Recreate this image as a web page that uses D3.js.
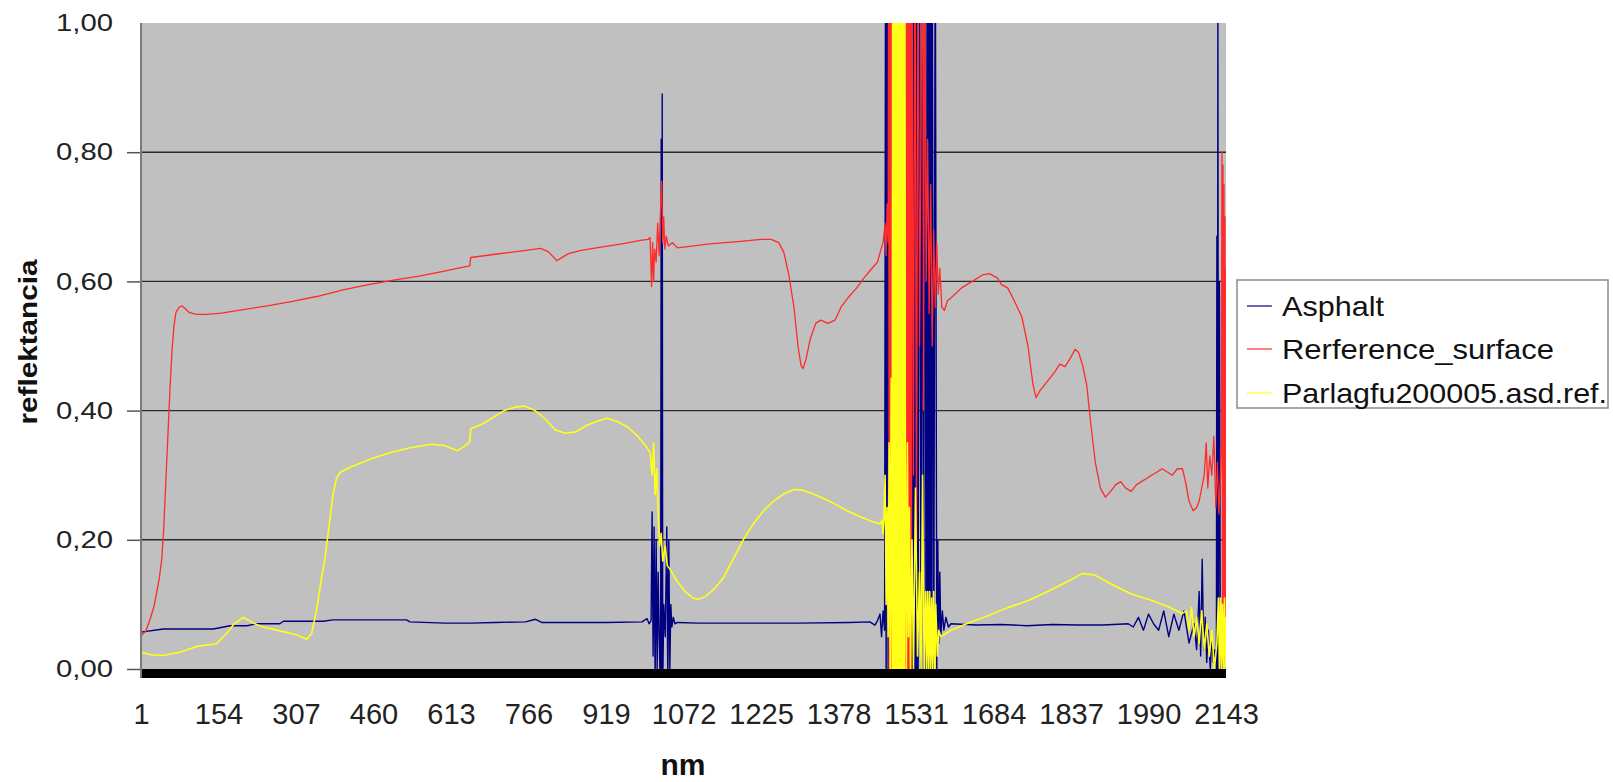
<!DOCTYPE html>
<html>
<head>
<meta charset="utf-8">
<script src="https://cdn.jsdelivr.net/npm/d3@7"></script>
<style>
  body { margin: 0; background: #fff; }
  svg { display: block; font-family: "Liberation Sans", Arial, sans-serif; }
</style>
</head>
<body>
<svg id="chart" width="1613" height="782"></svg>
<script>
// ---- data (index along the spectrum, reflectance) ----
const xTicks = [1, 154, 307, 460, 613, 766, 919, 1072, 1225, 1378, 1531, 1684, 1837, 1990, 2143];
const yTicks = [0, 0.2, 0.4, 0.6, 0.8, 1.0];
const seriesNames = ["Asphalt", "Rerference_surface", "Parlagfu200005.asd.ref."];
const seriesColors = ["#000080", "#ff2a2a", "#ffff1a"];

const asphalt = [
  [1,0.057],[45,0.062],[144,0.062],[177,0.067],[210,0.067],[229,0.070],[275,0.070],[282,0.074],[361,0.074],
  [380,0.076],[525,0.076],[532,0.073],[600,0.071],[651,0.071],[700,0.072],[760,0.073],[780,0.077],[792,0.072],
  [850,0.072],[920,0.072],[990,0.073],[1000,0.078],[1004,0.07],[1008,0.075],[1010,0.243],[1012,0.02],[1014,0.22],
  [1016,-0.02],[1018,0.20],[1020,0.0],[1022,0.15],[1024,0.05],[1026,-0.02],[1027,0.1],[1028,0.82],[1029,-0.03],
  [1030,0.89],[1031,-0.03],[1033,0.10],[1036,0.05],[1039,0.22],[1041,-0.02],[1043,0.20],[1045,0.0],[1047,0.10],
  [1049,0.065],[1052,0.08],[1055,0.07],[1060,0.072],[1100,0.071],[1200,0.071],[1300,0.071],[1400,0.072],
  [1440,0.073],[1450,0.068],[1455,0.075],[1460,0.085],[1463,0.05],[1466,0.09],[1469,0.06],
  [1471,1.2],[1472,-0.05],[1474,1.2],[1476,-0.05],[1478,1.2],[1480,-0.05],[1482,1.2],[1484,-0.05],[1486,1.2],
  [1488,-0.05],[1490,1.2],[1492,-0.05],[1494,1.2],[1496,-0.05],[1498,1.2],[1500,-0.05],[1502,1.2],[1504,-0.05],
  [1506,1.2],[1508,-0.05],[1510,1.2],[1512,-0.05],[1514,1.2],[1516,-0.05],[1518,1.2],[1520,-0.05],[1522,1.2],
  [1523,-0.05],[1524,1.2],[1525,-0.05],[1526,1.2],[1527,-0.05],[1528,1.2],[1529,-0.05],[1530,1.2],[1531,-0.05],
  [1532,1.2],[1533,-0.05],[1534,1.2],[1535,-0.05],[1538,1.2],[1541,-0.05],[1543,1.2],[1546,-0.05],[1548,1.2],
  [1551,-0.05],[1553,1.2],[1554,-0.05],[1555,1.2],[1556,-0.05],[1557,1.2],[1558,-0.05],[1559,1.2],[1560,-0.05],
  [1561,1.2],[1562,-0.05],[1563,1.2],[1566,-0.05],[1569,1.2],[1572,0.0],[1574,0.2],[1576,0.04],[1578,0.15],
  [1580,0.05],[1583,0.09],[1586,0.06],[1590,0.08],[1595,0.065],[1600,0.07],[1650,0.068],[1700,0.069],[1750,0.067],
  [1800,0.069],[1850,0.068],[1900,0.068],[1950,0.07],[1960,0.065],[1970,0.08],[1980,0.06],[1990,0.085],[2000,0.07],
  [2010,0.06],[2020,0.09],[2030,0.05],[2040,0.085],[2050,0.06],[2060,0.09],[2070,0.04],[2080,0.07],[2085,0.03],
  [2090,0.12],[2093,0.02],[2096,0.17],[2099,0.03],[2102,0.08],[2105,0.01],[2108,0.06],[2112,0.0],[2115,0.05],
  [2118,0.01],[2121,0.03],[2124,0.0],[2125,0.67],[2126,-0.02],[2127,1.05],[2128,0.0],[2130,0.6],[2132,-0.02],
  [2134,0.05],[2137,0.0],[2140,0.03],[2143,0.02]
];

const reference = [
  [1,0.052],[10,0.058],[19,0.077],[27,0.098],[32,0.119],[37,0.14],[42,0.17],[46,0.22],[50,0.29],[54,0.36],
  [58,0.43],[62,0.49],[66,0.53],[70,0.552],[76,0.56],[82,0.562],[88,0.558],[96,0.552],[110,0.549],[130,0.549],
  [160,0.551],[200,0.556],[250,0.562],[300,0.569],[350,0.577],[400,0.587],[450,0.595],[500,0.602],[550,0.608],
  [600,0.616],[630,0.621],[650,0.624],[652,0.637],[700,0.642],[750,0.647],[790,0.651],[805,0.646],[815,0.638],
  [822,0.632],[830,0.636],[845,0.643],[870,0.648],[900,0.652],[950,0.658],[990,0.664],[1002,0.665],[1006,0.668],
  [1009,0.592],[1011,0.66],[1013,0.60],[1015,0.65],[1018,0.63],[1021,0.69],[1024,0.64],[1027,0.72],[1029,0.755],
  [1031,0.66],[1033,0.70],[1035,0.65],[1038,0.67],[1042,0.655],[1050,0.66],[1060,0.652],[1124,0.658],[1185,0.662],
  [1225,0.665],[1245,0.665],[1260,0.66],[1270,0.645],[1280,0.61],[1290,0.56],[1298,0.50],[1304,0.47],[1308,0.465],
  [1314,0.48],[1322,0.51],[1333,0.535],[1343,0.54],[1357,0.535],[1371,0.54],[1383,0.56],[1397,0.575],[1414,0.59],
  [1428,0.605],[1444,0.62],[1455,0.63],[1462,0.65],[1466,0.66],[1470,0.69],[1472,0.64],[1474,0.72],[1476,0.66],
  [1477,1.2],[1478,-0.05],[1479,1.2],[1480,-0.05],[1481,1.2],[1482,-0.05],[1483,1.2],[1484,-0.05],[1485,1.2],
  [1490,0.1],[1495,0.9],[1500,0.2],[1505,0.8],[1509,1.2],[1510,-0.05],[1511,1.2],[1512,-0.05],[1513,1.2],
  [1514,-0.05],[1515,1.2],[1516,-0.05],[1517,1.2],[1518,-0.05],[1519,1.2],[1520,-0.05],[1521,1.2],[1522,-0.05],
  [1523,1.2],[1526,0.3],[1529,1.2],[1532,0.2],[1535,1.2],[1538,0.5],[1541,0.85],[1544,1.2],[1546,0.4],[1548,1.2],
  [1551,0.6],[1554,0.82],[1557,0.55],[1560,0.75],[1563,0.5],[1566,0.68],[1569,0.56],[1572,0.66],[1575,0.58],
  [1578,0.62],[1582,0.56],[1587,0.555],[1593,0.57],[1601,0.575],[1621,0.59],[1642,0.60],[1662,0.61],[1676,0.612],
  [1692,0.605],[1700,0.595],[1712,0.59],[1725,0.57],[1740,0.545],[1752,0.50],[1762,0.44],[1768,0.42],[1775,0.43],
  [1790,0.445],[1805,0.46],[1815,0.472],[1825,0.468],[1835,0.48],[1845,0.495],[1852,0.49],[1860,0.47],[1868,0.44],
  [1876,0.38],[1885,0.32],[1895,0.28],[1905,0.266],[1915,0.275],[1925,0.285],[1935,0.29],[1945,0.28],[1956,0.275],
  [1966,0.285],[1976,0.29],[1986,0.295],[1996,0.30],[2007,0.305],[2017,0.31],[2027,0.305],[2037,0.30],[2047,0.31],
  [2057,0.31],[2063,0.29],[2070,0.26],[2078,0.245],[2085,0.25],[2090,0.26],[2095,0.28],[2100,0.30],[2104,0.35],
  [2107,0.28],[2111,0.33],[2115,0.30],[2119,0.36],[2123,0.25],[2126,0.32],[2129,0.24],[2132,0.30],[2134,0.36],
  [2135,0.80],[2136,0.1],[2137,0.78],[2138,0.05],[2139,0.75],[2140,0.1],[2141,0.7],[2142,0.08],[2143,0.62]
];

const parlagfu = [
  [1,0.026],[20,0.022],[45,0.021],[78,0.026],[111,0.035],[150,0.039],[170,0.055],[185,0.07],[203,0.080],
  [223,0.071],[242,0.065],[275,0.059],[308,0.053],[328,0.046],[338,0.055],[348,0.093],[358,0.144],[364,0.17],
  [372,0.22],[380,0.27],[387,0.295],[395,0.305],[413,0.312],[454,0.325],[494,0.335],[535,0.343],[575,0.348],
  [600,0.346],[616,0.341],[626,0.338],[640,0.345],[650,0.352],[652,0.372],[677,0.38],[697,0.39],[718,0.40],
  [738,0.405],[758,0.407],[779,0.40],[799,0.387],[819,0.37],[839,0.365],[860,0.367],[880,0.377],[900,0.383],
  [921,0.388],[941,0.383],[961,0.375],[982,0.36],[998,0.345],[1006,0.335],[1010,0.30],[1013,0.35],[1016,0.27],
  [1019,0.31],[1022,0.24],[1025,0.19],[1028,0.21],[1031,0.167],[1036,0.19],[1040,0.16],[1045,0.155],[1050,0.148],
  [1060,0.135],[1075,0.12],[1090,0.11],[1100,0.108],[1115,0.112],[1130,0.122],[1150,0.14],[1170,0.17],[1190,0.20],
  [1210,0.225],[1230,0.245],[1250,0.26],[1270,0.271],[1290,0.278],[1305,0.277],[1325,0.272],[1345,0.265],
  [1370,0.256],[1395,0.245],[1420,0.236],[1445,0.228],[1460,0.225],[1464,0.23],[1466,0.21],[1468,0.24],[1470,0.30],
  [1472,0.10],[1474,0.25],[1476,0.05],[1478,0.35],[1480,0.0],[1482,0.45],[1484,0.0],[1485,1.2],[1486,-0.05],
  [1487,1.2],[1488,-0.05],[1489,1.2],[1490,-0.05],[1491,1.2],[1492,-0.05],[1493,1.2],[1494,-0.05],[1495,1.2],
  [1496,-0.05],[1497,1.2],[1498,-0.05],[1499,1.2],[1500,-0.05],[1501,1.2],[1502,-0.05],[1503,1.2],[1504,-0.05],
  [1505,1.2],[1506,-0.05],[1507,1.2],[1508,-0.05],[1509,1.2],[1510,0.3],[1512,0.0],[1514,0.35],[1516,0.05],
  [1518,0.25],[1520,0.0],[1523,0.20],[1526,0.0],[1530,0.28],[1534,0.02],[1538,0.15],[1541,0.0],[1544,0.30],
  [1547,0.0],[1550,0.12],[1552,0.0],[1554,0.12],[1556,0.0],[1558,0.12],[1560,0.0],[1562,0.11],[1564,0.0],
  [1566,0.12],[1568,0.0],[1570,0.1],[1573,0.02],[1576,0.06],[1580,0.05],[1590,0.055],[1600,0.06],[1631,0.07],
  [1672,0.082],[1712,0.095],[1753,0.106],[1794,0.121],[1834,0.137],[1860,0.148],[1885,0.145],[1915,0.132],
  [1956,0.116],[1997,0.106],[2027,0.097],[2057,0.086],[2065,0.09],[2070,0.06],[2075,0.095],[2080,0.05],
  [2085,0.08],[2090,0.04],[2095,0.09],[2100,0.03],[2105,0.07],[2110,0.02],[2115,0.06],[2120,0.0],[2125,0.04],
  [2128,0.11],[2130,0.0],[2132,0.11],[2134,0.0],[2136,0.1],[2138,0.0],[2140,0.11],[2142,0.0],[2143,0.08]
];

const allSeries = [asphalt, reference, parlagfu];

// ---- layout ----
const plot = {left: 141, right: 1226, top: 23, bottom: 669};
const svg = d3.select("#chart");

const x = d3.scaleLinear().domain([1, 2143]).range([plot.left, plot.right]);
const y = d3.scaleLinear().domain([0, 1]).range([plot.bottom, plot.top]);

// grey plot area
svg.append("rect")
  .attr("x", plot.left).attr("y", plot.top)
  .attr("width", plot.right - plot.left).attr("height", plot.bottom - plot.top)
  .attr("fill", "#c0c0c0");

// gridlines
svg.append("g")
  .selectAll("line")
  .data(yTicks.filter(d => d > 0 && d < 1))
  .join("line")
    .attr("x1", plot.left).attr("x2", plot.right)
    .attr("y1", d => y(d)).attr("y2", d => y(d))
    .attr("stroke", "#2a2a2a")
    .attr("stroke-width", 1.4);

svg.append("clipPath").attr("id", "plot-clip")
  .append("rect")
    .attr("x", plot.left).attr("y", plot.top)
    .attr("width", plot.right - plot.left).attr("height", plot.bottom - plot.top);

const line = d3.line()
  .x(d => x(d[0]))
  .y(d => y(d[1]));

const widths = [1.4, 1.3, 1.6];
svg.append("g")
    .attr("clip-path", "url(#plot-clip)")
  .selectAll("path")
  .data(allSeries)
  .join("path")
    .attr("d", line)
    .attr("fill", "none")
    .attr("stroke", (d, i) => seriesColors[i])
    .attr("stroke-width", (d, i) => widths[i])
    .attr("stroke-linejoin", "round");

// thick black base
svg.append("rect")
  .attr("x", plot.left).attr("y", plot.bottom)
  .attr("width", plot.right - plot.left).attr("height", 9)
  .attr("fill", "#000");

// y axis
const yAxis = svg.append("g")
  .attr("transform", `translate(${plot.left},0)`)
  .call(d3.axisLeft(y)
    .tickValues(yTicks)
    .tickSize(14)
    .tickPadding(14)
    .tickFormat(d => d3.format(".2f")(d).replace(".", ",")));
yAxis.select(".domain").remove();
yAxis.selectAll(".tick line").attr("stroke", "#555").attr("stroke-width", 1.5);
yAxis.selectAll(".tick").filter(d => d === 1).select("line").remove();
yAxis.selectAll("text")
  .attr("font-size", 24)
  .attr("fill", "#222")
  .attr("font-family", "Liberation Sans, Arial, sans-serif")
  .attr("textLength", 57)
  .attr("lengthAdjust", "spacingAndGlyphs");

svg.append("line")
  .attr("x1", plot.left).attr("x2", plot.left)
  .attr("y1", plot.top).attr("y2", plot.bottom + 9)
  .attr("stroke", "#7a7a7a").attr("stroke-width", 2);

// x axis labels
const xAxis = svg.append("g")
  .attr("transform", `translate(0,${plot.bottom})`)
  .call(d3.axisBottom(x)
    .tickValues(xTicks)
    .tickSize(0)
    .tickPadding(34)
    .tickFormat(d3.format("d")));
xAxis.select(".domain").remove();
xAxis.selectAll("text")
  .attr("font-size", 29)
  .attr("fill", "#222")
  .attr("font-family", "Liberation Sans, Arial, sans-serif");

// axis titles
svg.append("text")
  .attr("transform", "translate(37,342) rotate(-90)")
  .attr("text-anchor", "middle")
  .attr("font-size", 25)
  .attr("font-weight", "bold")
  .attr("fill", "#111")
  .attr("textLength", 165)
  .attr("lengthAdjust", "spacingAndGlyphs")
  .text("reflektancia");

svg.append("text")
  .attr("x", 683).attr("y", 775)
  .attr("text-anchor", "middle")
  .attr("font-size", 30)
  .attr("font-weight", "bold")
  .attr("fill", "#111")
  .text("nm");

// legend
const legend = svg.append("g");
legend.append("rect")
  .attr("x", 1237).attr("y", 280)
  .attr("width", 371).attr("height", 128)
  .attr("fill", "#fff")
  .attr("stroke", "#8a8a8a").attr("stroke-width", 1.5);

const legendY = [306, 349, 393];
const legendLen = [102, 272, 325];
const items = legend.selectAll("g.item")
  .data(seriesNames)
  .join("g")
    .attr("class", "item")
    .attr("transform", (d, i) => `translate(0,${legendY[i]})`);
items.append("line")
  .attr("x1", 1247).attr("x2", 1272)
  .attr("stroke", (d, i) => seriesColors[i])
  .attr("stroke-width", 1.2);
items.append("text")
  .attr("x", 1282).attr("y", 10)
  .attr("font-size", 28)
  .attr("fill", "#111")
  .attr("textLength", (d, i) => legendLen[i])
  .attr("lengthAdjust", "spacingAndGlyphs")
  .text(d => d);
</script>
</body>
</html>
